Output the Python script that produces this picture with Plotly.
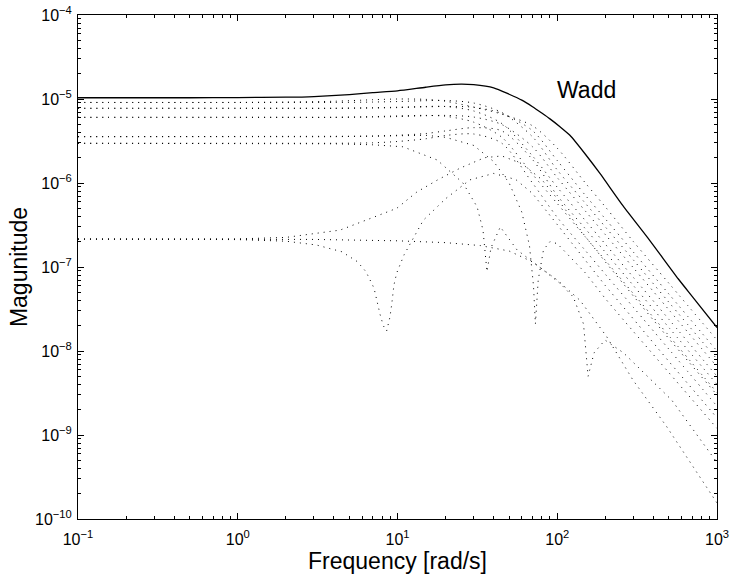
import plotly.graph_objects as go

# ---------------- data ----------------
# Solid bound "Wadd"
wadd_w = [0.1, 0.5, 1, 2, 3, 5, 7, 10, 15, 20, 25, 30, 40, 50, 60, 70, 80, 90, 104, 120, 150, 185, 259, 381, 573, 711, 1000]
wadd_m = [1.035e-5, 1.035e-5, 1.04e-5, 1.05e-5, 1.07e-5, 1.13e-5, 1.19e-5, 1.25e-5, 1.38e-5, 1.47e-5, 1.5e-5,
          1.48e-5, 1.36e-5, 1.14e-5, 9.7e-6, 8.1e-6, 6.8e-6, 5.8e-6, 4.68e-6, 3.7e-6, 2.2e-6, 1.3e-6, 5.3e-7,
          2.05e-7, 7.2e-8, 4.3e-8, 1.9e-8]

# common frequency grid of the smooth dotted curves
grid_w = [0.1, 1, 2, 4, 7, 10, 15, 20, 30, 45, 70, 100, 150, 200, 300, 500, 1000]

b1_m = [9.1e-6, 9.1e-6, 9.2e-6, 9.4e-6, 9.8e-6, 1.0e-5, 9.9e-6, 9.4e-6, 8.0e-6, 6.6e-6, 4.8e-6, 2.6e-6, 1.0e-6, 5.2e-7, 2.0e-7, 6.4e-8, 1.35e-8]
b2_m = [9.1e-6, 9.1e-6, 9.1e-6, 9.1e-6, 9.2e-6, 9.33e-6, 9.55e-6, 9.6e-6, 8.96e-6, 6.9e-6, 3.55e-6, 1.43e-6, 5.73e-7, 3.0e-7, 1.21e-7, 3.8e-8, 8.0e-9]
b3_m = [7.75e-6, 7.75e-6, 7.75e-6, 7.75e-6, 7.8e-6, 7.9e-6, 8.06e-6, 8.15e-6, 7.98e-6, 6.74e-6, 4.2e-6, 1.85e-6, 7.13e-7, 3.74e-7, 1.5e-7, 4.76e-8, 1.0e-8]
b4_m = [7.75e-6, 7.75e-6, 7.75e-6, 7.75e-6, 7.88e-6, 7.98e-6, 8.15e-6, 8.14e-6, 7.2e-6, 5.1e-6, 2.1e-6, 8.9e-7, 3.57e-7, 1.87e-7, 7.5e-8, 2.38e-8, 5.0e-9]
b5_m = [6.05e-6, 6.05e-6, 6.05e-6, 6.05e-6, 6.1e-6, 6.18e-6, 6.32e-6, 6.38e-6, 6.1e-6, 4.96e-6, 2.7e-6, 1.16e-6, 4.63e-7, 2.43e-7, 9.75e-8, 3.09e-8, 6.5e-9]
b6_m = [6.05e-6, 6.05e-6, 6.05e-6, 6.05e-6, 6.17e-6, 6.29e-6, 6.38e-6, 6.23e-6, 5.3e-6, 3.5e-6, 1.27e-6, 5.7e-7, 2.28e-7, 1.2e-7, 4.8e-8, 1.52e-8, 3.2e-9]
b7_m = [3.56e-6, 3.56e-6, 3.56e-6, 3.56e-6, 3.63e-6, 3.7e-6, 3.88e-6, 4.17e-6, 4.56e-6, 4.17e-6, 1.9e-6, 7.1e-7, 2.85e-7, 1.5e-7, 6.0e-8, 1.9e-8, 4.0e-9]
b10_m = [2.97e-6, 2.97e-6, 2.97e-6, 2.97e-6, 3.01e-6, 3.12e-6, 3.36e-6, 3.68e-6, 3.83e-6, 2.97e-6, 1.0e-6, 3.9e-7, 1.57e-7, 8.2e-8, 3.3e-8, 1.05e-8, 2.2e-9]

# dotted curves with notches (own frequency points)
b8_w = [0.1, 1, 2, 4, 7, 10.8, 17.7, 25.7, 31.5, 34.3, 36.3, 38.5, 44, 56, 80, 104, 126, 146, 156, 170, 199, 260, 521, 1000]
b8_m = [2.97e-6, 2.97e-6, 2.97e-6, 2.93e-6, 2.85e-6, 2.7e-6, 1.88e-6, 1.0e-6, 5.2e-7, 2.75e-7, 8.8e-8, 1.7e-7, 3.0e-7,
        1.6e-7, 9.5e-8, 6.4e-8, 4.4e-8, 2.1e-8, 5.0e-9, 9.5e-9, 1.35e-8, 9.5e-9, 2.6e-9, 4.7e-10]

b9_w = [0.1, 1, 2, 4, 7, 10, 15, 20, 30, 40, 50, 60, 67, 71, 73, 76, 82, 90, 100, 150, 200, 300, 500, 1000]
b9_m = [3.56e-6, 3.56e-6, 3.56e-6, 3.56e-6, 3.6e-6, 3.65e-6, 3.7e-6, 3.5e-6, 2.8e-6, 1.8e-6, 1.0e-6, 4.5e-7, 1.8e-7,
        6.0e-8, 2.1e-8, 7.0e-8, 1.6e-7, 2.0e-7, 1.9e-7, 8.5e-8, 4.2e-8, 1.7e-8, 5.5e-9, 1.2e-9]

n8_w = [0.1, 1, 2, 3.1, 4.48, 5.6, 6.35, 7.13, 7.77, 8.15, 8.55, 8.97, 9.2, 9.5, 9.89, 11.0, 14.5, 20, 28.4, 40, 55,
        70, 100, 150, 200, 300, 500, 1000]
n8_m = [2.15e-7, 2.12e-7, 2.03e-7, 1.83e-7, 1.52e-7, 1.16e-7, 8.8e-8, 5.6e-8, 2.75e-8, 2.0e-8, 1.73e-8, 2.54e-8, 3.6e-8,
        6.1e-8, 8.5e-8, 1.4e-7, 3.6e-7, 6.5e-7, 1.09e-6, 1.3e-6, 1.1e-6, 7.5e-7, 3.2e-7, 1.2e-7, 6.0e-8, 2.4e-8, 7.5e-9, 1.6e-9]

r_w = [0.1, 1, 2, 2.57, 4.37, 7.05, 9.9, 13.2, 18, 24.6, 35, 45, 60, 80, 100, 150, 200, 300, 500, 1000]
r_m = [2.15e-7, 2.16e-7, 2.25e-7, 2.4e-7, 2.75e-7, 3.9e-7, 5.0e-7, 7.8e-7, 1.1e-6, 1.5e-6, 2.0e-6, 2.1e-6, 1.7e-6,
       1.1e-6, 6.5e-7, 2.3e-7, 1.15e-7, 4.5e-8, 1.4e-8, 3.0e-9]

f_w = [0.1, 1, 3, 10, 20, 33, 50, 70, 100, 139, 204, 298, 484, 1000]
f_m = [2.15e-7, 2.15e-7, 2.13e-7, 2.05e-7, 1.95e-7, 1.8e-7, 1.55e-7, 1.15e-7, 7.0e-8, 4.0e-8, 1.48e-8, 4.5e-9, 1.26e-9, 1.55e-10]

# axis ticks
x_tick_vals = [0.1, 1, 10, 100, 1000]
x_tick_text = ["10<sup>−1</sup>", "10<sup>0</sup>", "10<sup>1</sup>", "10<sup>2</sup>", "10<sup>3</sup>"]
y_tick_vals = [1e-10, 1e-9, 1e-8, 1e-7, 1e-6, 1e-5, 1e-4]
y_tick_text = ["10<sup>−10</sup>", "10<sup>−9</sup>", "10<sup>−8</sup>", "10<sup>−7</sup>",
               "10<sup>−6</sup>", "10<sup>−5</sup>", "10<sup>−4</sup>"]

# ---------------- figure ----------------
FONT = "Liberation Sans, Arial, Helvetica, sans-serif"
DOT = "1px,5px"

dotted_smooth = [b1_m, b2_m, b3_m, b4_m, b5_m, b6_m, b7_m, b10_m]
dotted_sharp = [(b8_w, b8_m), (b9_w, b9_m), (n8_w, n8_m), (r_w, r_m), (f_w, f_m)]

fig = go.Figure()
for m in dotted_smooth:
    fig.add_trace(go.Scatter(x=grid_w, y=m, mode="lines", showlegend=False, hoverinfo="skip",
                             line=dict(color="black", width=1, dash=DOT, shape="spline", smoothing=0.8)))
for w, m in dotted_sharp:
    fig.add_trace(go.Scatter(x=w, y=m, mode="lines", showlegend=False, hoverinfo="skip",
                             line=dict(color="black", width=1, dash=DOT)))
fig.add_trace(go.Scatter(x=wadd_w, y=wadd_m, mode="lines", name="Wadd", showlegend=False,
                         line=dict(color="black", width=1.3, shape="spline", smoothing=0.6)))

minor_x = [k * 10 ** e for e in range(-1, 3) for k in range(2, 10)]
minor_y = [k * 10.0 ** e for e in range(-10, -4) for k in range(2, 10)]

axis_common = dict(
    type="log", tickmode="array", ticks="inside", ticklen=6, tickwidth=1, tickcolor="black",
    showline=True, linecolor="black", linewidth=1, mirror="ticks", showgrid=False, zeroline=False,
    automargin=False, tickfont=dict(family=FONT, size=16, color="black"),
)

fig.update_xaxes(
    range=[-1, 3], tickvals=x_tick_vals, ticktext=x_tick_text, ticklabelstandoff=6,
    minor=dict(tickmode="array", tickvals=minor_x, ticks="inside", ticklen=3, tickcolor="black", showgrid=False),
    title=dict(text="Frequency [rad/s]", font=dict(family=FONT, size=23, color="black"), standoff=5),
    **axis_common,
)
fig.update_yaxes(
    range=[-10, -4], tickvals=y_tick_vals, ticktext=y_tick_text, ticklabelstandoff=2,
    minor=dict(tickmode="array", tickvals=minor_y, ticks="inside", ticklen=3, tickcolor="black", showgrid=False),
    title=dict(text="Magunitude", font=dict(family=FONT, size=23, color="black"), standoff=0),
    **axis_common,
)

fig.add_annotation(x=2.186, y=-4.893, xref="x", yref="y", text="Wadd", showarrow=False,
                   font=dict(family=FONT, size=23, color="black"))

fig.update_layout(
    width=733, height=580,
    margin=dict(l=78, r=16, t=15, b=61),
    paper_bgcolor="white", plot_bgcolor="white",
    font=dict(family=FONT, color="black"),
)

fig.write_html("out.html")
